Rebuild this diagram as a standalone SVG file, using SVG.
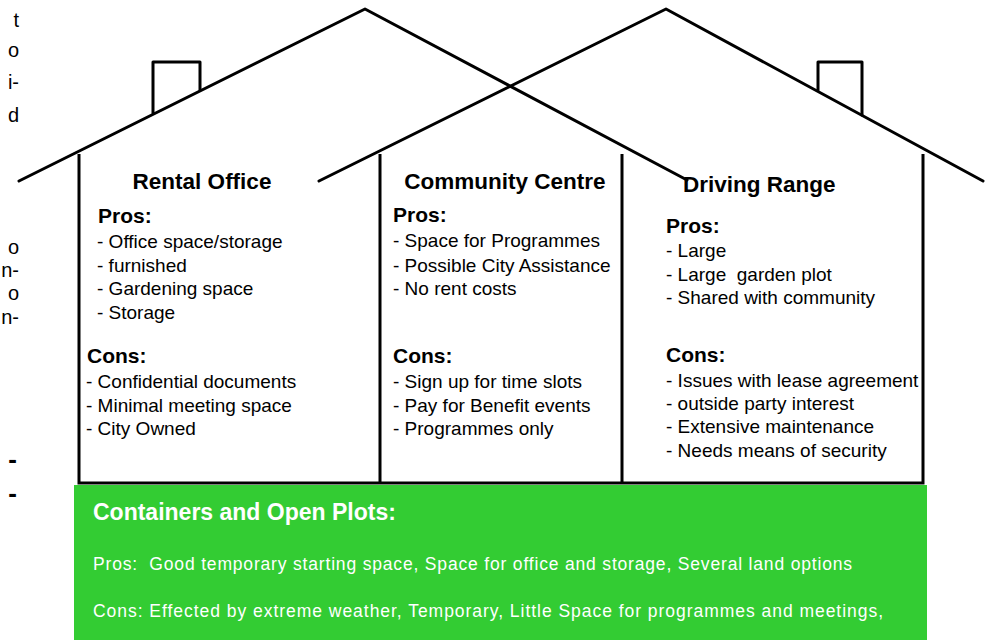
<svg xmlns="http://www.w3.org/2000/svg" width="992" height="641" viewBox="0 0 992 641">
<style>
  .ln{fill:none;stroke:#000;stroke-width:3;stroke-linecap:round;stroke-linejoin:round}
  .wall{fill:none;stroke:#000;stroke-width:3}
  .title{font-family:"Liberation Sans",Arial,sans-serif;font-weight:bold;font-size:22.5px;fill:#000}
  .head{font-family:"Liberation Sans",Arial,sans-serif;font-weight:bold;font-size:21px;fill:#000}
  .item{font-family:"Liberation Sans",Arial,sans-serif;font-size:19px;fill:#000}
  .frag{font-family:"Liberation Sans",Arial,sans-serif;font-size:20px;fill:#000}
  .dash{font-family:"Liberation Sans",Arial,sans-serif;font-size:26px;font-weight:bold;fill:#000}
  .gh{font-family:"Liberation Sans",Arial,sans-serif;font-weight:bold;font-size:23px;fill:#fff}
  .gt{font-family:"Liberation Sans",Arial,sans-serif;font-size:17.5px;fill:#fff}
</style>
<rect width="992" height="641" fill="#fff"/>

<g id="margin-fragments">
  <text class="frag" x="19" y="27" text-anchor="end">t</text>
  <text class="frag" x="19" y="57" text-anchor="end">o</text>
  <text class="frag" x="19" y="89" text-anchor="end">i-</text>
  <text class="frag" x="19" y="122" text-anchor="end">d</text>
  <text class="frag" x="19" y="254" text-anchor="end">o</text>
  <text class="frag" x="19" y="277" text-anchor="end">n-</text>
  <text class="frag" x="19" y="300" text-anchor="end">o</text>
  <text class="frag" x="19" y="324" text-anchor="end">n-</text>
  <text class="dash" x="17" y="468" text-anchor="end">-</text>
  <text class="dash" x="17" y="502" text-anchor="end">-</text>
</g>

<g id="structure">
  <polyline class="ln" points="19,181 365,9 687,180"/>
  <polyline class="ln" points="319,181 666,9 983,181"/>
  <polyline class="ln" points="153,113 153,62 200,62 200,90"/>
  <polyline class="ln" points="818,90 818,62 862,62 862,115"/>
  <polyline class="wall" points="79,154 79,483 923,483 923,154"/>
  <line class="wall" x1="380" y1="154" x2="380" y2="483"/>
  <line class="wall" x1="622" y1="154" x2="622" y2="483"/>
</g>

<g id="rental-office">
  <text class="title" x="202" y="189" text-anchor="middle">Rental Office</text>
  <text class="head" x="98" y="223">Pros:</text>
  <text class="item" x="97" y="248">- Office space/storage</text>
  <text class="item" x="97" y="272">- furnished</text>
  <text class="item" x="97" y="295">- Gardening space</text>
  <text class="item" x="97" y="319">- Storage</text>
  <text class="head" x="87" y="363">Cons:</text>
  <text class="item" x="86" y="388">- Confidential documents</text>
  <text class="item" x="86" y="412">- Minimal meeting space</text>
  <text class="item" x="86" y="435">- City Owned</text>
</g>

<g id="community-centre">
  <text class="title" x="505" y="189" text-anchor="middle">Community Centre</text>
  <text class="head" x="393" y="222">Pros:</text>
  <text class="item" x="393" y="247">- Space for Programmes</text>
  <text class="item" x="393" y="272">- Possible City Assistance</text>
  <text class="item" x="393" y="295">- No rent costs</text>
  <text class="head" x="393" y="363">Cons:</text>
  <text class="item" x="393" y="388">- Sign up for time slots</text>
  <text class="item" x="393" y="412">- Pay for Benefit events</text>
  <text class="item" x="393" y="435">- Programmes only</text>
</g>

<g id="driving-range">
  <text class="title" x="683" y="192">Driving Range</text>
  <text class="head" x="666" y="233">Pros:</text>
  <text class="item" x="666" y="257">- Large</text>
  <text class="item" x="666" y="281" xml:space="preserve">- Large  garden plot</text>
  <text class="item" x="666" y="304">- Shared with community</text>
  <text class="head" x="666" y="362">Cons:</text>
  <text class="item" x="666" y="387">- Issues with lease agreement</text>
  <text class="item" x="666" y="410">- outside party interest</text>
  <text class="item" x="666" y="433">- Extensive maintenance</text>
  <text class="item" x="666" y="457">- Needs means of security</text>
</g>

<g id="containers-open-plots">
  <rect x="74" y="485" width="853" height="155" fill="#33cc33"/>
  <text class="gh" x="93" y="520">Containers and Open Plots:</text>
  <text class="gt" x="93" y="570" textLength="759" lengthAdjust="spacing" xml:space="preserve">Pros:  Good temporary starting space, Space for office and storage, Several land options</text>
  <text class="gt" x="93" y="617" textLength="790" lengthAdjust="spacing">Cons: Effected by extreme weather, Temporary, Little Space for programmes and meetings,</text>
</g>
</svg>
